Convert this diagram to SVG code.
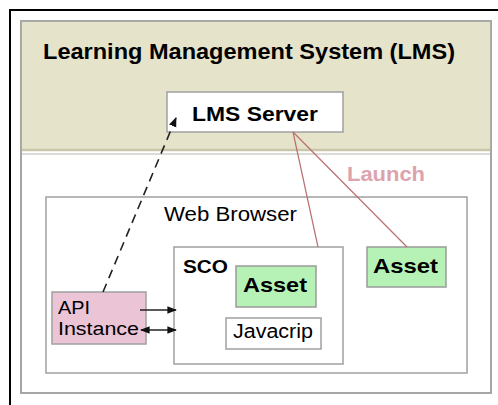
<svg xmlns="http://www.w3.org/2000/svg" width="498" height="405" viewBox="0 0 498 405">
  <style>
    text { font-family: "Liberation Sans", Arial, sans-serif; fill: #000; }
    .bold { font-weight: bold; }
    .box { stroke: #a0a0a0; stroke-width: 1.5; }
    .asset { fill: #b6f2b6; stroke: #9a9a9a; stroke-width: 1.5; }
    .launch { stroke: #b87070; stroke-width: 1.2; fill: none; }
    .link { stroke: #222; stroke-width: 1.6; fill: none; }
  </style>
  <defs>
    <marker id="arrow" viewBox="0 0 10 10" refX="9" refY="5" markerWidth="6" markerHeight="6" orient="auto-start-reverse">
      <path d="M0,1 L10,5 L0,9 z" fill="#111"/>
    </marker>
  </defs>

  <rect width="498" height="405" fill="#fff"/>

  <!-- outer frame -->
  <path d="M10,405 V10 H498" fill="none" stroke="#000" stroke-width="2"/>

  <!-- LMS area -->
  <g id="lms">
    <rect x="21" y="21" width="470" height="372" fill="#fff" class="box"/>
    <rect x="21.5" y="21.5" width="469" height="128" fill="#e6e3cb"/>
    <line x1="21" y1="150" x2="491" y2="150" stroke="#c9c5aa" stroke-width="2.5"/>
    <line x1="21" y1="154" x2="491" y2="154" stroke="#b8b8b0" stroke-width="1.2"/>
    <rect x="21" y="21" width="470" height="372" fill="none" class="box"/>
    <text x="43" y="59" class="bold" font-size="22" textLength="412" lengthAdjust="spacingAndGlyphs">Learning Management System (LMS)</text>
  </g>

  <g id="lms-server">
    <rect x="167" y="92" width="176" height="40" fill="#fff" class="box"/>
    <text x="192" y="121" class="bold" font-size="21" textLength="126" lengthAdjust="spacingAndGlyphs">LMS Server</text>
  </g>

  <text x="347" y="181" class="bold" font-size="20" style="fill:#dca3ad" textLength="78" lengthAdjust="spacingAndGlyphs">Launch</text>

  <g id="web-browser">
    <rect x="46" y="197" width="421" height="176" fill="#fff" class="box"/>
    <text x="164" y="221" font-size="20" textLength="133" lengthAdjust="spacingAndGlyphs">Web Browser</text>
  </g>

  <g id="sco">
    <rect x="174" y="247" width="169" height="117" fill="#fff" class="box"/>
    <text x="183" y="273" class="bold" font-size="18" textLength="45" lengthAdjust="spacingAndGlyphs">SCO</text>
  </g>

  <g id="sco-asset">
    <rect x="236" y="266" width="80" height="41" class="asset"/>
    <text x="243" y="292" class="bold" font-size="21" textLength="64" lengthAdjust="spacingAndGlyphs">Asset</text>
  </g>

  <g id="asset">
    <rect x="367" y="247" width="79" height="40" class="asset"/>
    <text x="373" y="273" class="bold" font-size="21" textLength="65" lengthAdjust="spacingAndGlyphs">Asset</text>
  </g>

  <g id="javascript">
    <rect x="226" y="318" width="95" height="31" fill="#fff" class="box"/>
    <text x="233" y="338" font-size="20" textLength="80" lengthAdjust="spacingAndGlyphs">Javacrip</text>
  </g>

  <g id="api-instance">
    <rect x="52" y="292" width="94" height="52" fill="#ebc4d6" class="box"/>
    <text x="58" y="314" font-size="18" textLength="32" lengthAdjust="spacingAndGlyphs">API</text>
    <text x="58" y="335" font-size="18" textLength="81" lengthAdjust="spacingAndGlyphs">Instance</text>
  </g>

  <g id="connectors">
    <line x1="103" y1="292" x2="176" y2="118" class="link" stroke-dasharray="9,6" marker-end="url(#arrow)"/>
    <line x1="293" y1="132" x2="318" y2="247" class="launch"/>
    <line x1="293" y1="132" x2="407" y2="247" class="launch"/>
    <line x1="140" y1="310" x2="176" y2="310" class="link" stroke="#444" marker-end="url(#arrow)"/>
    <line x1="141" y1="330" x2="176" y2="330" class="link" marker-start="url(#arrow)" marker-end="url(#arrow)"/>
  </g>
</svg>
